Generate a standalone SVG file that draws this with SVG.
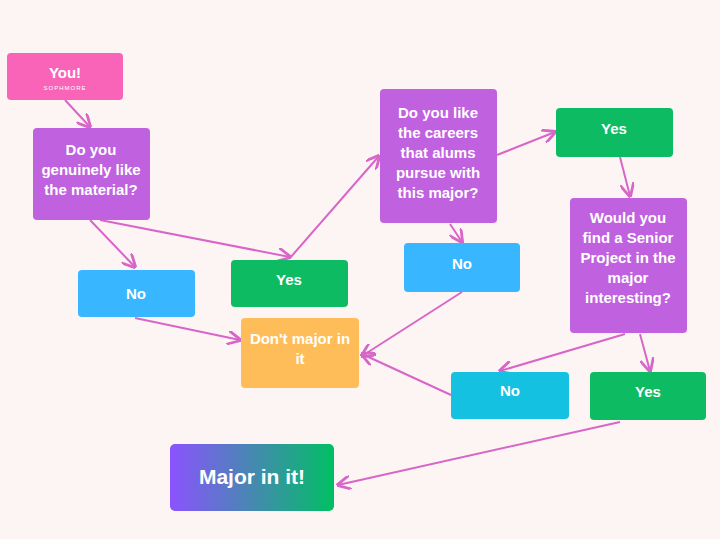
<svg xmlns="http://www.w3.org/2000/svg" width="720" height="539" viewBox="0 0 720 539">
<style>
text{font-family:"Liberation Sans",Arial,sans-serif;font-weight:bold;fill:#fff;text-anchor:middle;font-size:15px}
.c{stroke:#d865c8;stroke-width:2;fill:none;marker-end:url(#a)}
.p{fill:#c061e0}.b{fill:#38b6ff}.g{fill:#0dbb62}
</style>
<defs>
<marker id="a" viewBox="0 0 10 10" refX="9" refY="5" markerWidth="7" markerHeight="7" orient="auto"><path d="M0,0 L10,5 L0,10" fill="none" stroke="#d865c8" stroke-width="2"/></marker>
<linearGradient id="gr" x1="0" x2="1"><stop offset="0" stop-color="#8c52ff"/><stop offset="1" stop-color="#00bf63"/></linearGradient>
</defs>
<rect width="720" height="539" fill="#fdf5f4"/>
<g id="connectors">
<path class="c" d="M65,100 L90,127"/>
<path class="c" d="M90,220 L135,267"/>
<path class="c" d="M100,220 L290,257"/>
<path class="c" d="M290,258 L379,156"/>
<path class="c" d="M497,155 L555,132"/>
<path class="c" d="M450,224 L462,242"/>
<path class="c" d="M620,157 L630,196"/>
<path class="c" d="M625,334 L500,371"/>
<path class="c" d="M640,334 L650,371"/>
<path class="c" d="M135,318 L240,340"/>
<path class="c" d="M462,292 L362,356"/>
<path class="c" d="M451,395 L362,354"/>
<path class="c" d="M620,422 L338,485"/>
</g>
<g id="you"><rect x="7" y="53" width="116" height="47" rx="4" fill="#f963b8"/><text x="65" y="78">You!</text><text x="65" y="90" style="font-size:6px;font-weight:normal;letter-spacing:1px">SOPHMORE</text></g>
<g id="q1"><rect class="p" x="33" y="128" width="117" height="92" rx="4"/><text x="91" y="155">Do you</text><text x="91" y="175">genuinely like</text><text x="91" y="195">the material?</text></g>
<g id="no1"><rect class="b" x="78" y="270" width="117" height="47" rx="4"/><text x="136" y="299">No</text></g>
<g id="yes1"><rect class="g" x="231" y="260" width="117" height="47" rx="4"/><text x="289" y="285">Yes</text></g>
<g id="q2"><rect class="p" x="380" y="89" width="117" height="134" rx="4"/><text x="438" y="118">Do you like</text><text x="438" y="138">the careers</text><text x="438" y="158">that alums</text><text x="438" y="178">pursue with</text><text x="438" y="198">this major?</text></g>
<g id="no2"><rect class="b" x="404" y="243" width="116" height="49" rx="4"/><text x="462" y="269">No</text></g>
<g id="yes2"><rect class="g" x="556" y="108" width="117" height="49" rx="4"/><text x="614" y="134">Yes</text></g>
<g id="q3"><rect class="p" x="570" y="198" width="117" height="135" rx="4"/><text x="628" y="223">Would you</text><text x="628" y="243">find a Senior</text><text x="628" y="263">Project in the</text><text x="628" y="283">major</text><text x="628" y="303">interesting?</text></g>
<g id="dont"><rect x="241" y="318" width="118" height="70" rx="4" fill="#ffbd59"/><text x="300" y="344">Don't major in</text><text x="300" y="364">it</text></g>
<g id="no3"><rect x="451" y="372" width="118" height="47" rx="4" fill="#14c1e0"/><text x="510" y="396">No</text></g>
<g id="yes3"><rect class="g" x="590" y="372" width="116" height="48" rx="4"/><text x="648" y="397">Yes</text></g>
<g id="major"><rect x="170" y="444" width="164" height="67" rx="5" fill="url(#gr)"/><text x="252" y="484" style="font-size:21px">Major in it!</text></g>
</svg>
